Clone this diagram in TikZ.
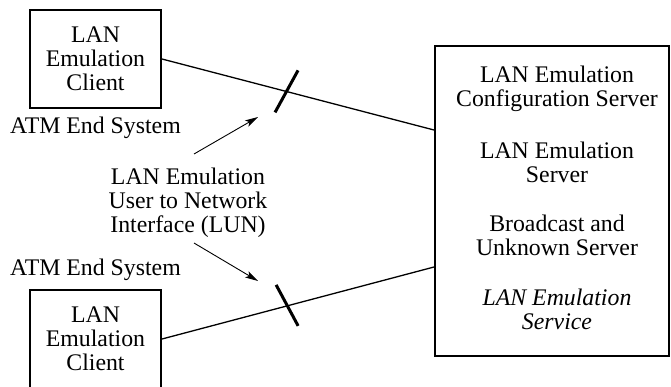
\documentclass[tikz,border=0pt]{standalone}
\usepackage{fontspec}
\setmainfont{Liberation Serif}
\usetikzlibrary{arrows.meta,calc}
\begin{document}
\begin{tikzpicture}[x=1pt,y=-1pt,
  every node/.style={font=\fontsize{23.8}{24}\selectfont, inner sep=0pt, align=center},
  clientbox/.style={draw, line width=2pt, minimum width=131pt, minimum height=98pt},
  srvbox/.style={draw, line width=2pt, minimum width=234pt, minimum height=310pt},
  link/.style={line width=1.3pt},
  tickmark/.style={line width=3pt},
  pointer/.style={line width=0.9pt, -{Stealth[length=13pt,width=7pt,inset=3pt]}}]
\useasboundingbox (0,0) rectangle (671,386);
% boxes
\node[clientbox] (c1) at (95.5,59) {LAN\\Emulation\\Client};
\node[clientbox] (c2) at (95.5,339) {LAN\\Emulation\\Client};
\node[srvbox] (srv) at (552,201) {};
% server texts
\node (t1) at (557,88.5) {LAN Emulation\\Configuration Server};
\node (t2) at (557,162.5) {LAN Emulation\\Server};
\node (t3) at (557,235.5) {Broadcast and\\Unknown Server};
\node (t4) at (557,309.5) {\itshape LAN Emulation\\\itshape Service};
% labels
\node[anchor=west] (a1) at (10,128) {ATM End System};
\node[anchor=west] (a2) at (10,270) {ATM End System};
\node (lun) at (188,203) {LAN Emulation\\User to Network\\Interface (LUN)};
% connectors
\coordinate (s1) at (srv.west |- 0,130);
\coordinate (s2) at (srv.west |- 0,267);
\draw[link] (c1.east) -- (s1) coordinate[pos=0.456] (k1);
\draw[link] (c2.east) -- (s2) coordinate[pos=0.46] (k2);
\draw[tickmark] ($(k1)+(12,-21)$) -- ($(k1)+(-11,21)$);
\draw[tickmark] ($(k2)+(-11,-21)$) -- ($(k2)+(11,20)$);
% pointers
\coordinate (p1s) at (194,154);
\coordinate (p1e) at (258,117);
\coordinate (p2s) at (194,243);
\coordinate (p2e) at (258,281);
\draw[pointer] (p1s) -- (p1e);
\draw[pointer] (p2s) -- (p2e);
\end{tikzpicture}
\end{document}
